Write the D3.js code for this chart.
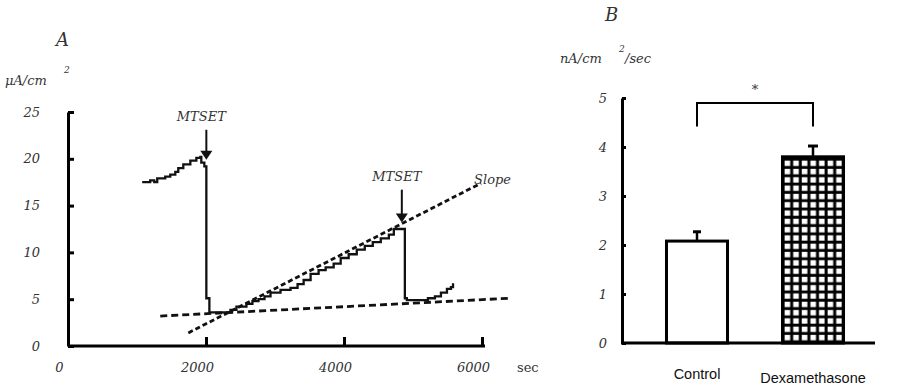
<!DOCTYPE html>
<html><head><meta charset="utf-8">
<script src="https://cdn.jsdelivr.net/npm/d3@7"></script>
<style>
body{margin:0;background:#fff;}
svg{display:block;}
.ser{font-family:"DejaVu Serif","Liberation Serif",serif;font-style:italic;fill:#333;}
</style></head><body>
<svg id="c" width="900" height="391"></svg>
<script>
// ---- Panel A data ----
const traceTime = [1075,1191,1250,1293,1409,1482,1555,1598,1671,1773,1860,1918,1932,1976,2005,2005,2049,2049,2252,2354,2441,2586,2673,2761,2848,2935,3080,3225,3327,3415,3516,3632,3734,3850,3952,4068,4185,4301,4417,4533,4650,4722,4868,4882,4882,4911,5115,5216,5318,5405,5492,5550,5580];
const traceCurrent = [17.5,17.7,17.5,17.9,18.1,18.3,18.6,19.0,19.4,19.8,20.1,20.2,19.6,19.2,19.0,5.1,4.7,3.6,3.6,3.85,4.2,4.5,4.8,5.0,5.3,5.7,6.0,6.2,6.6,7.05,7.7,8.1,8.4,8.8,9.4,9.8,10.3,10.7,11.1,11.5,11.9,12.5,12.5,12.5,5.1,4.9,4.9,5.1,5.3,5.7,6.1,6.3,6.7];
const baselineFit = [[1337,3.2],[6393,5.1]];
const slopeFit = [[1744,1.4],[5987,17.4]];
const arrowLabels = ["MTSET","MTSET"];
const arrowTime = [2005,4838];
const arrowFrom = [23.1,16.7];
const arrowTip = [19.9,13.2];
const xTicksA = [0,2000,4000,6000];
const yTicksA = [0,5,10,15,20,25];
// ---- Panel B data ----
const groups = ["Control","Dexamethasone"];
const means = [2.08,3.8];
const errs = [0.19,0.22];
const yTicksB = [0,1,2,3,4,5];
const bracketLevel = 4.9, bracketLeg = 4.42;

const svg = d3.select("#c");
const defs = svg.append("defs");
const pat = defs.append("pattern").attr("id","grid").attr("patternUnits","userSpaceOnUse")
  .attr("width",8.6).attr("height",8.3).attr("x",782).attr("y",158);
pat.append("rect").attr("width",8.6).attr("height",8.3).attr("fill","#000");
pat.append("rect").attr("x",2.6).attr("y",2.6).attr("width",5.6).attr("height",5.4).attr("fill","#fff");

// ===== Panel A =====
const xA = d3.scaleLinear().domain([0,6000]).range([68,482]);
const yA = d3.scaleLinear().domain([0,25]).range([346,112]);
const gA = svg.append("g");

const axXA = gA.append("g").attr("transform",`translate(0,${yA(0)})`)
  .call(d3.axisBottom(xA).tickValues(xTicksA).tickSizeInner(-9).tickSizeOuter(0).tickPadding(17).tickFormat(d3.format("d")));
const axYA = gA.append("g").attr("transform",`translate(${xA(0)},0)`)
  .call(d3.axisLeft(yA).tickValues(yTicksA).tickSizeInner(-6).tickSizeOuter(0).tickPadding(28));
[axXA,axYA].forEach(a=>{
  a.select(".domain").attr("stroke","#000").attr("stroke-width",3);
  a.selectAll(".tick line").attr("stroke","#000").attr("stroke-width",3);
  a.selectAll("text").attr("class","ser").attr("font-size",13);
});
axXA.select(".domain").attr("d",`M${xA(0)},0H${xA(6000)+3}`);
axXA.selectAll(".tick text").attr("dx",-9);
axXA.selectAll(".tick").filter(d=>d===0).select("line").remove();

const line = d3.line().x(d=>xA(d[0])).y(d=>yA(d[1]));
gA.append("path").datum(traceTime.map((t,i)=>[t,traceCurrent[i]]))
  .attr("d",line.curve(d3.curveStepAfter)).attr("fill","none").attr("stroke","#111").attr("stroke-width",2.3);
const fitLine = d3.line().x(d=>xA(d[0])).y(d=>yA(d[1]));
gA.append("path").datum(baselineFit).attr("d",fitLine).attr("fill","none").attr("stroke","#111")
  .attr("stroke-width",2.8).attr("stroke-dasharray","7,4");
gA.append("path").datum(slopeFit).attr("d",fitLine).attr("fill","none").attr("stroke","#111")
  .attr("stroke-width",2.8).attr("stroke-dasharray","5,3");

arrowTime.forEach((t,i)=>{
  const x = xA(t), y0 = yA(arrowFrom[i]), y1 = yA(arrowTip[i]);
  gA.append("line").attr("x1",x).attr("x2",x).attr("y1",y0).attr("y2",y1-8)
    .attr("stroke","#111").attr("stroke-width",2);
  gA.append("path").attr("d",`M${x-6},${y1-9}L${x+6},${y1-9}L${x},${y1}Z`).attr("fill","#111");
  gA.append("text").attr("class","ser").attr("font-size",13).attr("text-anchor","middle")
    .attr("x",x-5).attr("y",y0-9).text(arrowLabels[i]);
});
gA.append("text").attr("class","ser").attr("font-size",13).attr("x",xA(slopeFit[1][0])-7).attr("y",yA(slopeFit[1][1])+1).text("Slope");
gA.append("text").attr("class","ser").attr("font-size",18).attr("x",56).attr("y",46).text("A");
gA.append("text").attr("class","ser").attr("font-size",13).attr("x",5).attr("y",85).text("μA/cm");
gA.append("text").attr("class","ser").attr("font-size",9).attr("x",64).attr("y",73).text("2");
gA.append("text").attr("class","ser").attr("font-size",13).attr("font-style","normal").style("font-style","normal").attr("x",517).attr("y",372).text("sec");

// ===== Panel B =====
const xB = d3.scaleBand().domain(groups).range([639,871]).paddingInner(0.474).paddingOuter(0.237);
const yB = d3.scaleLinear().domain([0,5]).range([343,98]);
const gB = svg.append("g");

const bw = xB.bandwidth();
groups.forEach((g,i)=>{
  const x = xB(g), cx = x + bw/2;
  gB.append("line").attr("x1",cx).attr("x2",cx).attr("y1",yB(means[i])).attr("y2",yB(means[i]+errs[i]))
    .attr("stroke","#000").attr("stroke-width",2.5);
  const cw = i===0?8:10;
  gB.append("line").attr("x1",cx-cw/2).attr("x2",cx+cw/2).attr("y1",yB(means[i]+errs[i])).attr("y2",yB(means[i]+errs[i]))
    .attr("stroke","#000").attr("stroke-width",3);
  gB.append("rect").attr("x",x).attr("y",yB(means[i])).attr("width",bw).attr("height",yB(0)-yB(means[i]))
    .attr("fill",i===0?"#fff":"url(#grid)").attr("stroke","#000").attr("stroke-width",3);
});

const axYB = gB.append("g").attr("transform",`translate(622,0)`)
  .call(d3.axisLeft(yB).tickValues(yTicksB).tickSizeInner(-4).tickSizeOuter(0).tickPadding(15).tickFormat(d3.format("d")));
axYB.select(".domain").attr("stroke","#000").attr("stroke-width",3);
axYB.selectAll(".tick line").attr("stroke","#000").attr("stroke-width",3);
axYB.selectAll("text").attr("class","ser").attr("font-size",13);

const axXB = gB.append("g").attr("transform",`translate(0,${yB(0)})`)
  .call(d3.axisBottom(xB).tickSize(0).tickPadding(26));
axXB.select(".domain").attr("d","M621,0H875").attr("stroke","#000").attr("stroke-width",3);
axXB.selectAll("text").attr("font-family","'Liberation Sans',Arial,sans-serif").attr("font-size",14.5).attr("fill","#111");
axXB.selectAll(".tick").filter(d=>d==="Dexamethasone").select("text").attr("dy","0.98em");

const c0 = xB(groups[0])+bw/2, c1 = xB(groups[1])+bw/2;
gB.append("path").attr("d",`M${c0},${yB(bracketLeg)}V${yB(bracketLevel)}H${c1}V${yB(bracketLeg)}`)
  .attr("fill","none").attr("stroke","#000").attr("stroke-width",2);
gB.append("text").attr("class","ser").attr("font-size",13).attr("text-anchor","middle")
  .attr("x",(c0+c1)/2).attr("y",yB(bracketLevel)-9).text("*");

gB.append("text").attr("class","ser").attr("font-size",18).attr("x",605).attr("y",21).text("B");
gB.append("text").attr("class","ser").attr("font-size",13).attr("x",560).attr("y",63).text("nA/cm");
gB.append("text").attr("class","ser").attr("font-size",9).attr("x",619).attr("y",52).text("2");
gB.append("text").attr("class","ser").attr("font-size",13).attr("x",625).attr("y",63).text("/sec");
</script></body></html>
